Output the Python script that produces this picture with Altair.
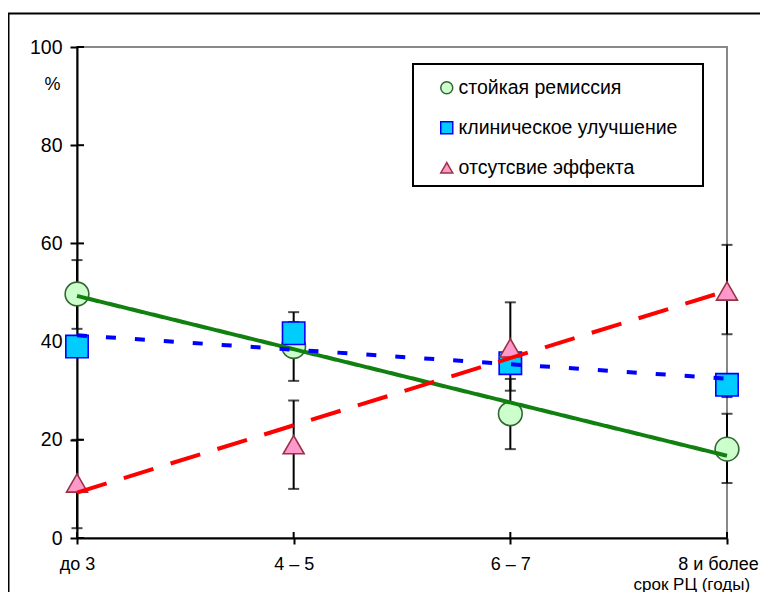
import altair as alt
import pandas as pd

categories = ["до 3", "4 – 5", "6 – 7", "8 и более"]
series_names = ["стойкая ремиссия", "клиническое улучшение", "отсутсвие эффекта"]

remission = [49.7, 39.0, 25.3, 18.1]
remission_lo = [42.6, 32.0, 18.1, 11.2]
remission_hi = [56.6, 46.0, 32.4, 25.3]

improvement = [39.0, 41.7, 35.6, 31.2]
improvement_lo = [36.9, 39.4, 33.4, 28.7]
improvement_hi = [41.1, 44.0, 38.0, 33.4]

no_effect = [11.2, 19.0, 38.7, 50.3]
no_effect_lo = [2.0, 10.0, 30.0, 41.5]
no_effect_hi = [20.0, 28.0, 48.0, 59.7]

y_ticks = [0, 20, 40, 60, 80, 100]
x_ticks = [0, 1, 2, 3]

series_values = [
    (remission, remission_lo, remission_hi),
    (improvement, improvement_lo, improvement_hi),
    (no_effect, no_effect_lo, no_effect_hi),
]

rows = []
for k, (name, (vals, los, his)) in enumerate(zip(series_names, series_values)):
    for i, (v, lo, hi) in enumerate(zip(vals, los, his)):
        rows.append({"series": name, "marker": k, "x": i, "y": v, "lo": lo, "hi": hi})
df = pd.DataFrame(rows)

W, H = 650, 491
FONT = "Liberation Sans"

label_expr = "[" + ",".join("'" + c + "'" for c in categories) + "][datum.value]"

x_scale = alt.Scale(domain=[0, 3], nice=False, zero=False)
y_scale = alt.Scale(domain=[0, 100], nice=False)

x_axis = alt.Axis(
    values=x_ticks, labelExpr=label_expr, labelFlush=False, labelOverlap=False,
    labelBound=False,
    labelOffset={"condition": {"test": "datum.value == 3", "value": -9}, "value": 0},
    tickSize=6, labelPadding=11, labelFontSize=18,
    titleX=556, titleY=51, titleAlign="left", titleBaseline="alphabetic",
    titleFontSize=17, titleFontWeight="normal",
)
y_axis = alt.Axis(
    values=y_ticks, tickSize=7, labelPadding=8, labelFontSize=19.5,
    titleAngle=0, titleX=-25, titleY=37, titleAlign="center", titleBaseline="middle",
    titleFontSize=18, titleFontWeight="normal",
)

base = alt.Chart(df)
one = alt.Chart(pd.DataFrame({"a": [0]}))

frame = one.mark_rect(
    fillOpacity=0, stroke="black", strokeWidth=2
).encode(
    x=alt.value(-68.5), x2=alt.value(W + 200),
    y=alt.value(-33.5), y2=alt.value(H + 200),
)

legend_box = one.mark_rect(
    fill="white", stroke="black", strokeWidth=2
).encode(
    x=alt.value(336), x2=alt.value(626),
    y=alt.value(17), y2=alt.value(139),
)

err_rules = base.mark_rule(color="black", strokeWidth=2).encode(
    x=alt.X("x:Q", scale=x_scale, axis=x_axis, title="срок РЦ (годы)"),
    y=alt.Y("lo:Q", scale=y_scale, axis=y_axis, title="%"),
    y2="hi:Q",
)

err_caps = base.transform_fold(["lo", "hi"], as_=["end", "val"]).mark_tick(
    orient="horizontal", size=11, thickness=2, color="black"
).encode(x="x:Q", y="val:Q")

legend = alt.Legend(
    title=None, orient="none", legendX=336, legendY=17,
    padding=14, symbolOffset=10, symbolSize=144, symbolStrokeWidth=1.5,
    labelFontSize=19.5, labelFont=FONT, labelOffset=2, rowPadding=19,
    labelLimit=400, labelColor="black",
)

points = base.mark_point(filled=True, opacity=1, strokeWidth=1.6).encode(
    x="x:Q",
    y="y:Q",
    shape=alt.Shape("series:N", scale=alt.Scale(domain=series_names, range=["circle", "square", "triangle-up"]), legend=legend, sort=series_names),
    fill=alt.Fill("series:N", scale=alt.Scale(domain=series_names, range=["#ccffcc", "#00ccff", "#ff99cc"]), legend=legend, sort=series_names),
    stroke=alt.Stroke("series:N", scale=alt.Scale(domain=series_names, range=["#336633", "#0000ff", "#993344"]), legend=legend, sort=series_names),
    size=alt.Size("marker:O", scale=alt.Scale(domain=[0, 1, 2], range=[560, 440, 600]), legend=None),
)

line_styles = [
    ("#108010", [1, 0]),
    ("#0000ff", [10, 19]),
    ("#ff0000", [31, 18]),
]
lines = []
for name, (col, dash) in zip(series_names, line_styles):
    lines.append(
        base.transform_filter(alt.datum.series == name)
        .transform_regression("x", "y")
        .mark_line(color=col, strokeDash=dash, strokeWidth=4)
        .encode(x="x:Q", y="y:Q")
    )

tick_df_y = pd.DataFrame({"v": y_ticks})
tick_df_x = pd.DataFrame({"v": x_ticks})
inner_y = alt.Chart(tick_df_y).mark_rule(color="black", strokeWidth=2).encode(
    y="v:Q", x=alt.value(0), x2=alt.value(7)
)
inner_x = alt.Chart(tick_df_x).mark_rule(color="black", strokeWidth=2).encode(
    x="v:Q", y=alt.value(H), y2=alt.value(H - 6)
)

chart = alt.layer(
    err_rules, frame, legend_box, err_caps, inner_y, inner_x, points, *lines
).properties(
    width=W, height=H,
    autosize=alt.AutoSizeParams(type="none"),
    padding={"left": 69, "top": 39, "right": 33, "bottom": 54},
).configure_view(
    stroke="#888888", strokeWidth=2
).configure_axis(
    grid=False, domainColor="black", domainWidth=2, tickColor="black", tickWidth=2,
    labelColor="black", titleColor="black", labelFont=FONT, titleFont=FONT,
)

chart.save("out.html", embed_options={"renderer": "svg", "actions": False})
